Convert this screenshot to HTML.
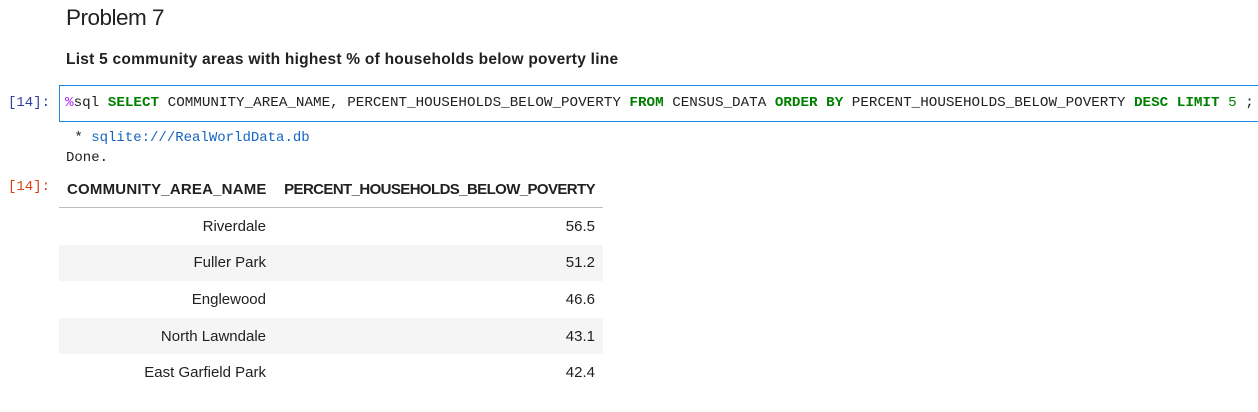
<!DOCTYPE html>
<html><head><meta charset="utf-8">
<style>
body{margin:0;width:1258px;height:412px;background:#fff;overflow:hidden;position:relative;font-family:"Liberation Sans",sans-serif;color:#212121}
.abs{position:absolute;white-space:nowrap}
.mono{font-family:"Liberation Mono",monospace}
.kw{color:#008000;font-weight:bold}
.mag{color:#aa22ff}
.num{color:#008000}
table{border-collapse:collapse;font-size:15px;color:#212121;table-layout:fixed}
td,th{text-align:right;padding:0 8px;height:36.6px}
th{font-weight:bold;height:36px;font-size:15px}
tr.h th{border-bottom:1px solid #bdbdbd}
tr.s td{background:#f5f5f5}
</style></head><body>
<div class="abs" style="left:66px;top:5px;font-size:22.5px;letter-spacing:-0.5px">Problem 7</div>
<div class="abs" style="left:66px;top:51px;font-size:15.5px;font-weight:bold;letter-spacing:0.25px">List 5 community areas with highest % of households below poverty line</div>
<div class="abs mono" style="left:8px;top:95px;font-size:14px;color:#303f9f">[14]:</div>
<div class="abs" style="left:59px;top:85px;width:1210px;height:37px;border:1px solid #1e88e5;box-sizing:border-box"></div>
<div class="abs mono" style="left:65px;top:95px;font-size:14.25px;color:#212121"><span class="mag">%</span>sql <span class="kw">SELECT</span> COMMUNITY_AREA_NAME, PERCENT_HOUSEHOLDS_BELOW_POVERTY <span class="kw">FROM</span> CENSUS_DATA <span class="kw">ORDER</span> <span class="kw">BY</span> PERCENT_HOUSEHOLDS_BELOW_POVERTY <span class="kw">DESC</span> <span class="kw">LIMIT</span> <span class="num">5</span> ;</div>
<div class="abs mono" style="left:66px;top:130px;font-size:14px">&nbsp;* <span style="color:#1565c0">sqlite:///RealWorldData.db</span></div>
<div class="abs mono" style="left:66px;top:150px;font-size:14px">Done.</div>
<div class="abs mono" style="left:8px;top:179px;font-size:14px;color:#d84315">[14]:</div>
<table class="abs" style="left:59px;top:171px;width:544px">
<colgroup><col style="width:215px"><col style="width:329px"></colgroup>
<tr class="h"><th style="letter-spacing:0.2px">COMMUNITY_AREA_NAME</th><th style="letter-spacing:-0.6px">PERCENT_HOUSEHOLDS_BELOW_POVERTY</th></tr>
<tr><td>Riverdale</td><td>56.5</td></tr>
<tr class="s"><td>Fuller Park</td><td>51.2</td></tr>
<tr><td>Englewood</td><td>46.6</td></tr>
<tr class="s"><td>North Lawndale</td><td>43.1</td></tr>
<tr><td>East Garfield Park</td><td>42.4</td></tr>
</table>
</body></html>
